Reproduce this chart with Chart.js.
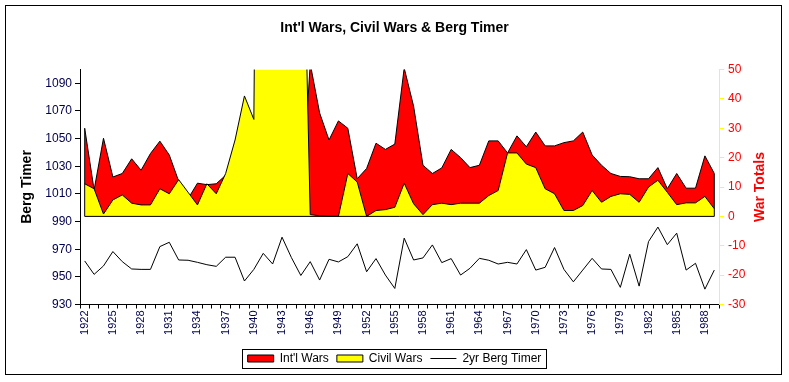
<!DOCTYPE html>
<html><head><meta charset="utf-8">
<script src="https://cdn.jsdelivr.net/npm/chart.js@4"></script>
<style>html,body{margin:0;padding:0;background:#fff}</style>
</head><body>
<canvas id="c" width="789" height="382"></canvas>
<script>
const years = ['1922','1923','1924','1925','1926','1927','1928','1929','1930','1931','1932','1933','1934','1935','1936','1937','1938','1939','1940','1941','1942','1943','1944','1945','1946','1947','1948','1949','1950','1951','1952','1953','1954','1955','1956','1957','1958','1959','1960','1961','1962','1963','1964','1965','1966','1967','1968','1969','1970','1971','1972','1973','1974','1975','1976','1977','1978','1979','1980','1981','1982','1983','1984','1985','1986','1987','1988','1989'];

const intlWars = [30,9,26.6,13.4,14.6,19.6,15.7,21.4,25.6,20.9,12,6,11.3,10.8,11.1,14,20,25,25,40,40,40,40,0,52,35.2,26,32.5,30,12.8,16.3,24.9,22.8,24.6,50.5,37.5,17.4,14.6,16.5,22.8,20,16.6,17.4,25.7,25.7,21.6,27.4,23.7,28.7,24,24,25.1,25.7,28.7,20.9,17.4,14.6,13.6,13.5,12.8,12.8,16.6,9.4,14.6,9.6,9.6,20.6,14.6];

const civilWars = [11.1,9.4,0.8,5.6,7.3,4.5,3.9,3.9,9.4,7.7,12.5,8.2,3.9,11.1,7.7,14.6,26,41,33,400,400,400,400,142,0.6,0.2,0,0,14.6,11.7,0,2,2.3,3.1,11.3,4.3,0.6,4,4.5,4,4.5,4.5,4.5,7.1,8.8,21.6,21.6,17.8,16.6,9.4,7.7,2,2,3.7,8.8,4.8,6.8,7.7,7.5,4.8,10,12.3,8.2,4,4.6,4.6,6.8,2.6];

const bergTimer = [961.5,951.8,957.9,968.3,961,955.7,955.4,955.4,971.9,975,962.2,962,960.5,958.8,957.6,964.2,964.2,947,955.4,967,959.3,978.7,963.9,951,961,947.7,962.7,960.8,964.6,973.9,953.7,963.2,951.3,941.6,978,962.2,963.7,973.1,960.3,963.2,951.3,956.2,963.4,962,959.3,960.5,959.3,969.7,954.9,956.9,971.2,955.4,946.4,954.9,963.4,955.7,955.4,942.4,966.4,943.3,975.5,986,973.3,981.6,954.9,959.8,941.1,954.9];

const xTickLabels = ['1922','1925','1928','1931','1934','1937','1940','1943','1946','1949','1952','1955','1958','1961','1964','1967','1970','1973','1976','1979','1982','1985','1988'];
const bergTicks = [930,950,970,990,1010,1030,1050,1070,1090];
const warTicks = [-30,-20,-10,0,10,20,30,40,50];

const FONT = '"Liberation Sans", Arial, sans-serif';
const NAVY = '#000050';

const decor = {
  id: 'decor',
  beforeDraw(chart) {
    const ctx = chart.ctx;
    ctx.save();
    ctx.fillStyle = '#fff';
    ctx.fillRect(0, 0, chart.width, chart.height);
    ctx.strokeStyle = '#000';
    ctx.lineWidth = 1;
    ctx.strokeRect(5.5, 5.5, 776, 369);
    ctx.restore();
  },
  afterDatasetsDraw(chart) {
    const ctx = chart.ctx, xs = chart.scales.x, y2 = chart.scales.y2, a = chart.chartArea;
    ctx.save();
    ctx.beginPath();
    ctx.rect(a.left, a.top, a.right - a.left, a.bottom - a.top);
    ctx.clip();
    ctx.strokeStyle = '#000';
    ctx.lineWidth = 1;
    const n = years.length - 1;
    const y0 = y2.getPixelForValue(0);
    const xl = xs.getPixelForValue(0), xr = xs.getPixelForValue(n);
    ctx.beginPath();
    ctx.moveTo(xl, y0); ctx.lineTo(xr, y0);
    ctx.moveTo(xl, y0); ctx.lineTo(xl, y2.getPixelForValue(Math.max(intlWars[0], civilWars[0])));
    ctx.moveTo(xr, y0); ctx.lineTo(xr, y2.getPixelForValue(Math.max(intlWars[n], civilWars[n])));
    ctx.stroke();
    ctx.restore();
  },
  afterDraw(chart) {
    const ctx = chart.ctx, a = chart.chartArea;
    ctx.save();
    ctx.translate(760, (a.top + a.bottom) / 2);
    ctx.rotate(-Math.PI / 2);
    ctx.fillStyle = '#ff0000';
    ctx.font = 'bold 14px ' + FONT;
    ctx.textAlign = 'center';
    ctx.textBaseline = 'middle';
    ctx.fillText('War Totals', 0, 0);
    ctx.restore();
    const hb = chart.legend.legendHitBoxes;
    if (hb && hb.length) {
      const l = Math.min(...hb.map(h => h.left)), r = Math.max(...hb.map(h => h.left + h.width));
      const t = Math.min(...hb.map(h => h.top)), b = Math.max(...hb.map(h => h.top + h.height));
      ctx.save();
      ctx.strokeStyle = '#000';
      ctx.lineWidth = 1;
      ctx.strokeRect(Math.round(l - 6) + 0.5, Math.round(t - 4) + 0.5, Math.round(r - l + 10), Math.round(b - t + 7));
      ctx.restore();
    }
  }
};

new Chart(document.getElementById('c'), {
  type: 'line',
  data: {
    labels: years,
    datasets: [
      { label: "Int'l Wars", data: intlWars, yAxisID: 'y2', fill: 'origin', backgroundColor: '#ff0000', borderColor: '#000', borderWidth: 1, pointRadius: 0, tension: 0, order: 2, clip: 0 },
      { label: 'Civil Wars', data: civilWars, yAxisID: 'y2', fill: 'origin', backgroundColor: '#ffff00', borderColor: '#000', borderWidth: 1, pointRadius: 0, tension: 0, order: 1, clip: 0 },
      { label: '2yr Berg Timer', data: bergTimer, yAxisID: 'y', fill: false, backgroundColor: '#000', borderColor: '#000', borderWidth: 1, pointRadius: 0, tension: 0, order: 0 }
    ]
  },
  options: {
    responsive: false,
    animation: false,
    events: [],
    layout: { padding: { top: 5, left: 5, right: 5, bottom: 7.5 } },
    plugins: {
      tooltip: { enabled: false },
      title: {
        display: true,
        text: "Int'l Wars, Civil Wars & Berg Timer",
        color: '#000',
        font: { family: FONT, size: 14, weight: 'bold' },
        padding: { top: 15, bottom: 32.7 }
      },
      legend: {
        position: 'bottom',
        labels: {
          color: '#000',
          font: { family: FONT, size: 12 },
          usePointStyle: true,
          pointStyleWidth: 26,
          boxHeight: 7,
          padding: 8,
          sort: (a, b) => a.datasetIndex - b.datasetIndex,
          generateLabels(chart) {
            const items = Chart.defaults.plugins.legend.labels.generateLabels(chart);
            items.forEach(it => {
              it.strokeStyle = '#000';
              it.lineWidth = 1;
              it.pointStyle = it.datasetIndex === 2 ? 'line' : 'rect';
            });
            return items;
          }
        }
      }
    },
    scales: {
      x: {
        type: 'category',
        offset: true,
        grid: { display: true, drawOnChartArea: false, drawTicks: true, tickLength: 4, color: '#000', offset: true },
        border: { display: true, color: '#000' },
        ticks: {
          autoSkip: false, maxRotation: 90, minRotation: 90, padding: 2,
          color: NAVY, font: { family: FONT, size: 11 },
          callback(v, i) { return xTickLabels.includes(years[i]) ? years[i] : ''; }
        },
        afterFit(s) { s.height = 40; }
      },
      y: {
        position: 'left',
        min: 930, max: 1100,
        grid: { drawOnChartArea: false, tickLength: 5, color: '#000' },
        border: { display: true, color: '#000' },
        ticks: { padding: 3, color: NAVY, font: { family: FONT, size: 12 }, callback: v => String(v) },
        afterBuildTicks(s) { s.ticks = bergTicks.map(v => ({ value: v })); },
        title: { display: true, text: 'Berg Timer', color: '#000', font: { family: FONT, size: 14, weight: 'bold' }, padding: { top: 13.6, bottom: 0 } },
        afterFit(s) { s.width = 75; }
      },
      y2: {
        position: 'right',
        min: -30, max: 50,
        grid: { drawOnChartArea: false, tickLength: 5, color: '#ffff00' },
        border: { display: true, color: '#ffff00' },
        ticks: { padding: 4, color: '#ff0000', font: { family: FONT, size: 12 }, callback: v => String(v) },
        afterBuildTicks(s) { s.ticks = warTicks.map(v => ({ value: v })); },
        afterFit(s) { s.width = 65; }
      }
    }
  },
  plugins: [decor]
});
</script>
</body></html>
